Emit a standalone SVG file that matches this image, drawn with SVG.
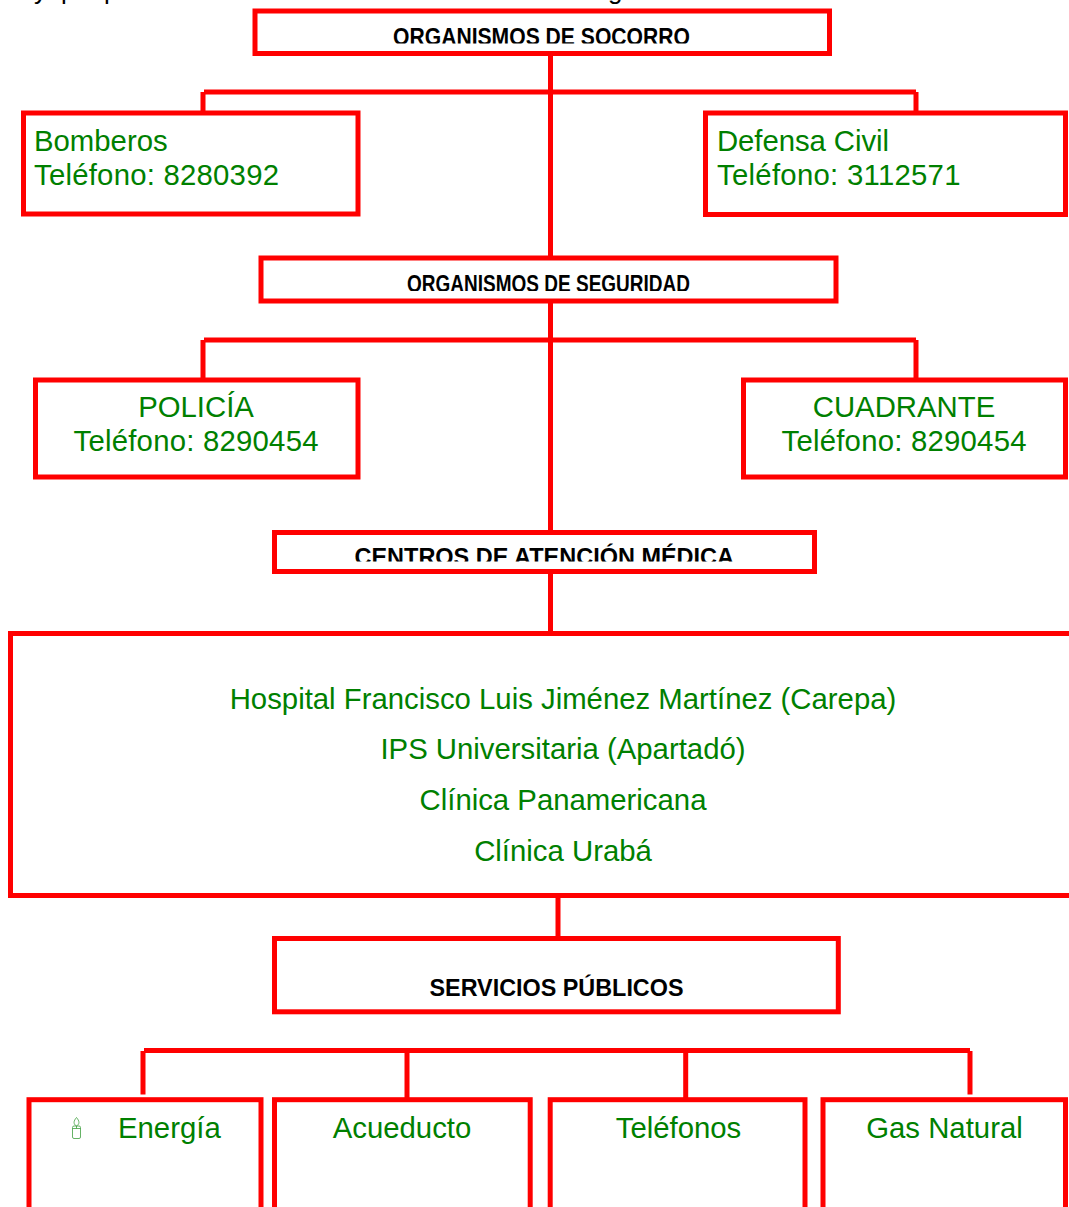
<svg xmlns="http://www.w3.org/2000/svg" width="1069" height="1207" viewBox="0 0 1069 1207">
<style>
.b{fill:#fff;stroke:#f00;stroke-width:5}
.c{fill:none;stroke:#f00;stroke-width:5}
text{font-family:"Liberation Sans",Arial,sans-serif}
.g{fill:#008000;font-size:29.33px}
.m{text-anchor:middle}
.h{fill:#000;font-weight:bold}
.t{fill:#000;font-size:26px}
</style>
<defs>
<clipPath id="c1"><rect x="258" y="14" width="569" height="29.5"/></clipPath>
<clipPath id="c2"><rect x="264" y="261" width="569" height="30"/></clipPath>
<clipPath id="c3"><rect x="277" y="535" width="534" height="26.5"/></clipPath>
</defs>
<rect width="1069" height="1207" fill="#fff"/>
<g id="fragments">
<text class="t" x="34" y="-1">y</text>
<text class="t" x="61" y="-1">p</text>
<text class="t" x="104" y="-1">p</text>
<text class="t" x="608" y="-1">g</text>
</g>
<g id="connectors">
<path class="c" d="M550.500 53V260M550.500 300V533M550.500 572V634M558 895V940"/>
<path class="c" d="M204 92H916M203 92V111M916 92V111"/>
<path class="c" d="M204 340H916M203 340V378M916 340V378"/>
<path class="c" d="M144 1050.500H970M143 1051V1094.500M970 1051V1094.500M407 1051V1099M685.700 1051V1099"/>
</g>
<g id="n-socorro"><rect class="b" x="255" y="11" width="574.500" height="42.500"/>
<text class="h" clip-path="url(#c1)" x="393" y="44.500" font-size="24" textLength="297" lengthAdjust="spacingAndGlyphs">ORGANISMOS DE SOCORRO</text></g>
<g id="n-bomberos"><rect class="b" x="23.500" y="113" width="334.500" height="101"/>
<text class="g" x="34" y="150.500">Bomberos</text><text class="g" x="34" y="184.500" textLength="245" lengthAdjust="spacing">Teléfono: 8280392</text></g>
<g id="n-defensa"><rect class="b" x="705.500" y="113" width="360" height="101.500"/>
<text class="g" x="717" y="150.500" textLength="172" lengthAdjust="spacing">Defensa Civil</text><text class="g" x="717" y="184.500" textLength="243.500" lengthAdjust="spacing">Teléfono: 3112571</text></g>
<g id="n-seguridad"><rect class="b" x="261" y="258" width="575" height="43"/>
<text class="h" clip-path="url(#c2)" x="407" y="292" font-size="24.500" textLength="283" lengthAdjust="spacingAndGlyphs">ORGANISMOS DE SEGURIDAD</text></g>
<g id="n-policia"><rect class="b" x="35.500" y="380" width="322.500" height="97"/>
<text class="g m" x="196" y="416.500">POLICÍA</text><text class="g m" x="196" y="450.500" textLength="245" lengthAdjust="spacing">Teléfono: 8290454</text></g>
<g id="n-cuadrante"><rect class="b" x="743.500" y="380" width="322" height="97"/>
<text class="g m" x="904" y="416.500">CUADRANTE</text><text class="g m" x="904" y="450.500" textLength="245" lengthAdjust="spacing">Teléfono: 8290454</text></g>
<g id="n-centros"><rect class="b" x="274.500" y="532.500" width="540" height="39"/>
<text class="h" clip-path="url(#c3)" x="354.500" y="565" font-size="23.500" textLength="379.500" lengthAdjust="spacingAndGlyphs">CENTROS DE ATENCIÓN MÉDICA</text></g>
<g id="n-hospitales"><rect class="b" x="10.500" y="633.500" width="1070" height="262"/>
<text class="g m" x="563" y="709">Hospital Francisco Luis Jiménez Martínez (Carepa)</text>
<text class="g m" x="563" y="759">IPS Universitaria (Apartadó)</text>
<text class="g m" x="563" y="810">Clínica Panamericana</text>
<text class="g m" x="563" y="861">Clínica Urabá</text></g>
<g id="n-servicios"><rect class="b" x="274.500" y="938.500" width="563.800" height="73.300"/>
<text class="h" x="429.500" y="995.700" font-size="23.500" textLength="254" lengthAdjust="spacingAndGlyphs">SERVICIOS PÚBLICOS</text></g>
<g id="n-energia"><rect class="b" x="29" y="1099.700" width="232" height="130"/>
<g fill="none" stroke="#008000" stroke-width="0.800" opacity=".75"><rect x="72.500" y="1126" width="8" height="12.500" rx="1.500"/><path d="M76.500 1117.500C73.500 1121 73 1124 76.500 1126C80 1124 79.500 1121 76.500 1117.500Z"/><path d="M72.500 1128.500H80.500M76.500 1126V1128.500"/></g>
<text class="g" x="118" y="1137.500">Energía</text></g>
<g id="n-acueducto"><rect class="b" x="274.500" y="1099.700" width="255.700" height="130"/>
<text class="g m" x="402" y="1137.500">Acueducto</text></g>
<g id="n-telefonos"><rect class="b" x="550.200" y="1099.700" width="254.800" height="130"/>
<text class="g m" x="678.500" y="1137.500">Teléfonos</text></g>
<g id="n-gas"><rect class="b" x="823" y="1099.700" width="242.500" height="130"/>
<text class="g m" x="944.500" y="1137.500">Gas Natural</text></g>
</svg>
